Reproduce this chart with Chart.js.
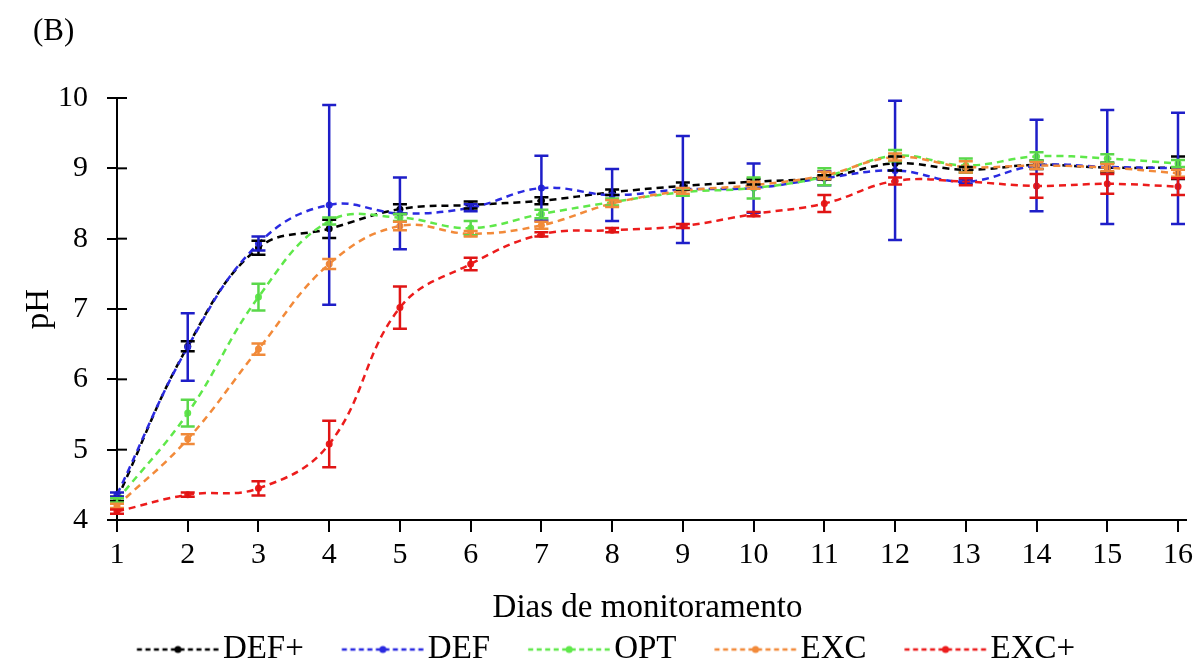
<!DOCTYPE html>
<html>
<head>
<meta charset="utf-8">
<script src="https://cdn.jsdelivr.net/npm/chart.js@4"></script>
<style>
    body { margin: 0; background: #fff; }
    #wrap { width: 1198px; height: 666px; position: relative; }
</style>
</head>
<body>
<div id="wrap"><canvas id="phChart"></canvas></div>
<script>
// Data
const days = ['1', '2', '3', '4', '5', '6', '7', '8', '9', '10', '11', '12', '13', '14', '15', '16'];
const yTicks = [4, 5, 6, 7, 8, 9, 10];

const defPlus = [4.3, 6.47, 7.87, 8.14, 8.42, 8.48, 8.54, 8.66, 8.75, 8.81, 8.87, 9.07, 8.98, 9.05, 9.01, 9.01];
const defPlusErr = [0.03, 0.07, 0.1, 0.13, 0.07, 0.05, 0.05, 0.04, 0.05, 0.04, 0.03, 0.1, 0.04, 0.06, 0.07, 0.16];

const def = [4.36, 6.46, 7.93, 8.48, 8.36, 8.44, 8.72, 8.62, 8.7, 8.72, 8.86, 8.97, 8.81, 9.04, 9.02, 9.0];
const defErr = [0.03, 0.48, 0.1, 1.42, 0.51, 0.05, 0.46, 0.37, 0.76, 0.35, 0.1, 0.99, 0.03, 0.65, 0.81, 0.79];

const opt = [4.28, 5.52, 7.17, 8.25, 8.3, 8.15, 8.35, 8.52, 8.66, 8.72, 8.88, 9.18, 9.04, 9.17, 9.14, 9.07];
const optErr = [0.03, 0.19, 0.19, 0.05, 0.05, 0.1, 0.06, 0.05, 0.05, 0.15, 0.12, 0.08, 0.1, 0.06, 0.06, 0.05];

const exc = [4.2, 5.15, 6.43, 7.64, 8.18, 8.07, 8.19, 8.5, 8.68, 8.76, 8.9, 9.16, 9.02, 9.04, 9.01, 8.93];
const excErr = [0.03, 0.07, 0.08, 0.07, 0.06, 0.04, 0.05, 0.05, 0.04, 0.05, 0.05, 0.05, 0.08, 0.05, 0.05, 0.05];

const excPlus = [4.12, 4.36, 4.45, 5.08, 7.02, 7.64, 8.06, 8.12, 8.18, 8.35, 8.5, 8.82, 8.81, 8.75, 8.78, 8.74];
const excPlusErr = [0.03, 0.03, 0.1, 0.33, 0.3, 0.09, 0.03, 0.03, 0.03, 0.03, 0.12, 0.05, 0.05, 0.17, 0.14, 0.12];

const seriesNames = ['DEF+', 'DEF', 'OPT', 'EXC', 'EXC+'];
const seriesValues = [defPlus, def, opt, exc, excPlus];
const seriesErrors = [defPlusErr, defErr, optErr, excErr, excPlusErr];
const lineColors = ['#000000', '#2a2ae0', '#5fe84a', '#f28a3a', '#ec1c1c'];
const barColors = ['#000000', '#1e1ec8', '#5ad84a', '#f08a3a', '#e01414'];

const serif = "'Liberation Serif', 'Times New Roman', serif";

// legend icon: short dashed line with a dot in the middle
const makeIcon = (color) => {
    const c = document.createElement('canvas');
    c.width = 130;
    c.height = 14;
    const g = c.getContext('2d');
    const x0 = 47.25;
    g.strokeStyle = color;
    g.lineWidth = 2.5;
    g.setLineDash([5, 3.5]);
    g.beginPath();
    g.moveTo(x0, 7);
    g.lineTo(x0 + 82, 7);
    g.stroke();
    g.fillStyle = color;
    g.beginPath();
    g.arc(x0 + 41, 7, 3.5, 0, Math.PI * 2);
    g.fill();
    return c;
};
const legendIcons = lineColors.map(makeIcon);

// error bars drawn from the y scale
const errorBars = {
    id: 'errorBars',
    afterDatasetsDraw(chart) {
        const { ctx } = chart;
        const yScale = chart.scales.y;
        chart.data.datasets.forEach((ds, di) => {
            const meta = chart.getDatasetMeta(di);
            ctx.save();
            ctx.strokeStyle = barColors[di];
            ctx.lineWidth = 2.5;
            meta.data.forEach((pt, i) => {
                const v = ds.data[i];
                const e = seriesErrors[di][i];
                const top = yScale.getPixelForValue(v + e);
                const bot = yScale.getPixelForValue(v - e);
                ctx.beginPath();
                ctx.moveTo(pt.x, top);
                ctx.lineTo(pt.x, bot);
                ctx.moveTo(pt.x - 7, top);
                ctx.lineTo(pt.x + 7, top);
                ctx.moveTo(pt.x - 7, bot);
                ctx.lineTo(pt.x + 7, bot);
                ctx.stroke();
            });
            ctx.restore();
        });
    },
};

// y ticks cross the axis: draw the inner half, and run the x axis a bit past 16
const axisExtras = {
    id: 'axisExtras',
    afterDraw(chart) {
        const { ctx, chartArea } = chart;
        const yScale = chart.scales.y;
        ctx.save();
        ctx.strokeStyle = '#000';
        ctx.lineWidth = 2;
        yTicks.forEach((t) => {
            const y = yScale.getPixelForValue(t);
            ctx.beginPath();
            ctx.moveTo(chartArea.left, y);
            ctx.lineTo(chartArea.left + 10, y);
            ctx.stroke();
        });
        ctx.beginPath();
        ctx.moveTo(chartArea.right, chartArea.bottom);
        ctx.lineTo(chartArea.right + 9, chartArea.bottom);
        ctx.stroke();
        ctx.restore();
    },
};

const panelLabel = {
    id: 'panelLabel',
    afterDraw(chart) {
        const { ctx } = chart;
        ctx.save();
        ctx.font = `31px ${serif}`;
        ctx.fillStyle = '#000';
        ctx.textBaseline = 'alphabetic';
        ctx.fillText('(B)', 33, 40);
        ctx.restore();
    },
};

const ctx = document.getElementById('phChart').getContext('2d');

// eslint-disable-next-line no-new
new Chart(ctx, {
    type: 'line',
    data: {
        labels: days,
        datasets: seriesNames.map((name, index) => ({
            label: name,
            data: seriesValues[index],
            borderColor: lineColors[index],
            backgroundColor: lineColors[index],
            pointBackgroundColor: lineColors[index],
            pointBorderWidth: 0,
            pointRadius: 3.5,
            borderWidth: 2.5,
            borderDash: [7, 5],
            tension: 0.4,
            fill: false,
            order: seriesNames.length - index,
        })),
    },
    options: {
        responsive: true,
        maintainAspectRatio: false,
        animation: false,
        layout: {
            padding: { top: 98, left: 0, right: 20, bottom: -10 },
        },
        plugins: {
            tooltip: { enabled: false },
            legend: {
                position: 'bottom',
                labels: {
                    usePointStyle: true,
                    pointStyleWidth: 103.5,
                    padding: 4,
                    color: '#000',
                    font: { family: serif, size: 33 },
                    sort: (a, b) => a.datasetIndex - b.datasetIndex,
                    generateLabels: (chart) => Chart.defaults.plugins.legend.labels.generateLabels(chart)
                        .map((item) => ({ ...item, pointStyle: legendIcons[item.datasetIndex] })),
                },
            },
        },
        scales: {
            x: {
                type: 'category',
                offset: false,
                border: { display: true, color: '#000', width: 2 },
                grid: { drawOnChartArea: false, drawTicks: true, tickLength: 12, color: '#000', lineWidth: 2 },
                ticks: {
                    color: '#000',
                    padding: 5,
                    maxRotation: 0,
                    autoSkip: false,
                    font: { family: serif, size: 30 },
                },
                title: {
                    display: true,
                    text: 'Dias de monitoramento',
                    color: '#000',
                    font: { family: serif, size: 33 },
                    padding: { top: 0, bottom: 1 },
                },
                afterFit: (scale) => { scale.height = 109; },
            },
            y: {
                min: 4,
                max: 10,
                border: { display: true, color: '#000', width: 2 },
                grid: { drawOnChartArea: false, drawTicks: true, tickLength: 10, color: '#000', lineWidth: 2 },
                afterBuildTicks: (scale) => { scale.ticks = yTicks.map((v) => ({ value: v })); },
                ticks: {
                    color: '#000',
                    padding: 19,
                    font: { family: serif, size: 30 },
                },
                title: {
                    display: true,
                    text: 'pH',
                    color: '#000',
                    font: { family: serif, size: 33 },
                    padding: { top: 20, bottom: 0 },
                },
                afterFit: (scale) => { scale.width = 117; },
            },
        },
    },
    plugins: [errorBars, axisExtras, panelLabel],
});
</script>
</body>
</html>
